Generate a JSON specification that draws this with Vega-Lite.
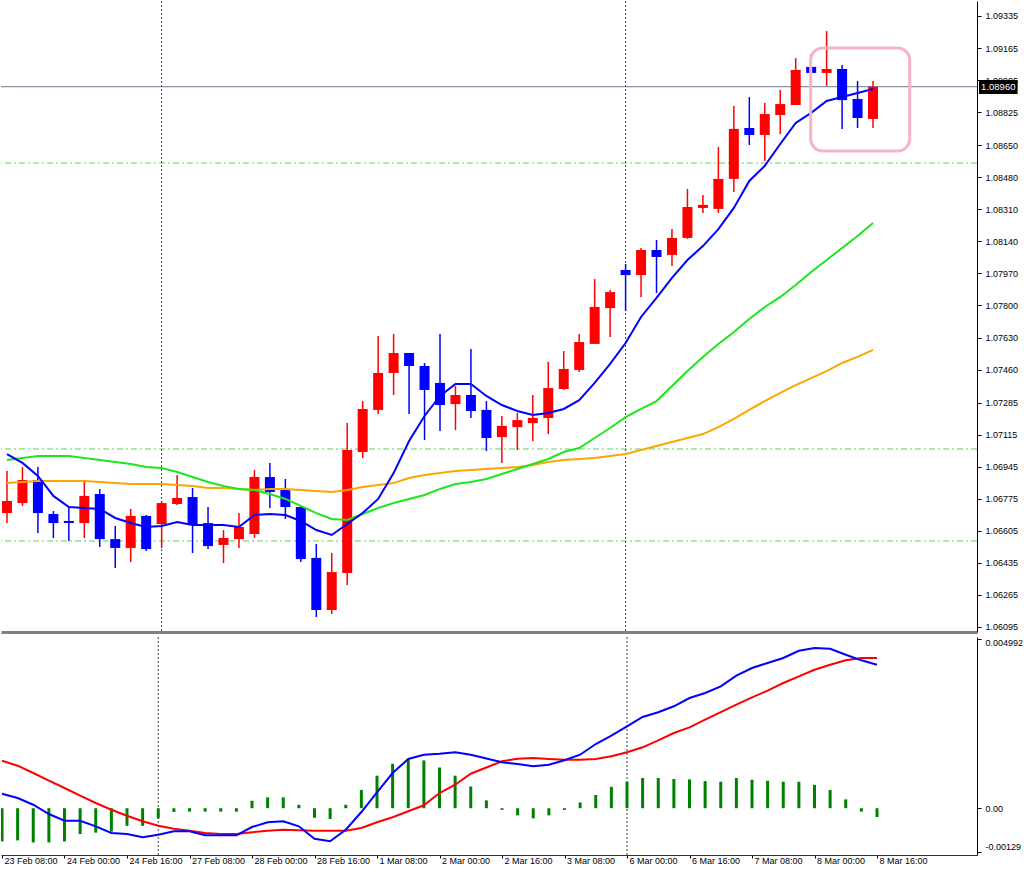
{
  "$schema": "https://vega.github.io/schema/vega-lite/v6.json",
  "background": "white",
  "padding": 0,
  "spacing": 3,
  "config": {
    "view": {"stroke": null},
    "font": "Liberation Sans",
    "axis": {"labelFont": "Liberation Sans", "labelFontSize": 9, "labelColor": "#000000", "domainColor": "#000000", "tickColor": "#000000", "grid": false, "tickSize": 4, "labelOverlap": false},
    "axisY": {"labelOverlap": false, "labelSeparation": 0}
  },
  "datasets": {
    "k": [
      {"i":0,"o":1.06699,"h":1.06922,"l":1.06646,"c":1.06763,"m1":1.07012,"m2":1.06980,"m3":1.06858,"macd":0.000428,"sig":0.001401,"hist":-0.00098},
      {"i":1,"o":1.06752,"h":1.06943,"l":1.06737,"c":1.06874,"m1":1.06965,"m2":1.06991,"m3":1.06864,"macd":0.000301,"sig":0.001254,"hist":-0.00095},
      {"i":2,"o":1.06874,"h":1.06943,"l":1.06593,"c":1.06699,"m1":1.06896,"m2":1.07002,"m3":1.06869,"macd":0.000103,"sig":0.001038,"hist":-0.00101},
      {"i":3,"o":1.06694,"h":1.06710,"l":1.06567,"c":1.06646,"m1":1.06790,"m2":1.07002,"m3":1.06869,"macd":-0.000171,"sig":0.000811,"hist":-0.00101},
      {"i":4,"o":1.06657,"h":1.06726,"l":1.06551,"c":1.06646,"m1":1.06731,"m2":1.07002,"m3":1.06869,"macd":-0.000369,"sig":0.000596,"hist":-0.00098},
      {"i":5,"o":1.06646,"h":1.06864,"l":1.06567,"c":1.06790,"m1":1.06726,"m2":1.06991,"m3":1.06869,"macd":-0.000369,"sig":0.000369,"hist":-0.00076},
      {"i":6,"o":1.06800,"h":1.06827,"l":1.06519,"c":1.06561,"m1":1.06721,"m2":1.06980,"m3":1.06864,"macd":-0.000534,"sig":0.000153,"hist":-0.00072},
      {"i":7,"o":1.06561,"h":1.06631,"l":1.06408,"c":1.06514,"m1":1.06673,"m2":1.06970,"m3":1.06858,"macd":-0.000731,"sig":-0.000044,"hist":-0.00069},
      {"i":8,"o":1.06514,"h":1.06721,"l":1.06439,"c":1.06684,"m1":1.06646,"m2":1.06959,"m3":1.06853,"macd":-0.000761,"sig":-0.000221,"hist":-0.00052},
      {"i":9,"o":1.06684,"h":1.06689,"l":1.06498,"c":1.06508,"m1":1.06625,"m2":1.06943,"m3":1.06853,"macd":-0.000858,"sig":-0.000386,"hist":-0.00052},
      {"i":10,"o":1.06641,"h":1.06763,"l":1.06514,"c":1.06752,"m1":1.06631,"m2":1.06938,"m3":1.06853,"macd":-0.000782,"sig":-0.000516,"hist":-0.00030},
      {"i":11,"o":1.06747,"h":1.06901,"l":1.06742,"c":1.06779,"m1":1.06652,"m2":1.06917,"m3":1.06848,"macd":-0.000681,"sig":-0.000605,"hist":-0.00011},
      {"i":12,"o":1.06784,"h":1.06832,"l":1.06487,"c":1.06641,"m1":1.06636,"m2":1.06890,"m3":1.06843,"macd":-0.000681,"sig":-0.000664,"hist":-0.00010},
      {"i":13,"o":1.06646,"h":1.06731,"l":1.06508,"c":1.06524,"m1":1.06636,"m2":1.06864,"m3":1.06832,"macd":-0.000799,"sig":-0.000731,"hist":-0.00010},
      {"i":14,"o":1.06530,"h":1.06609,"l":1.06434,"c":1.06567,"m1":1.06636,"m2":1.06843,"m3":1.06832,"macd":-0.000799,"sig":-0.000761,"hist":-0.00010},
      {"i":15,"o":1.06561,"h":1.06699,"l":1.06514,"c":1.06625,"m1":1.06625,"m2":1.06827,"m3":1.06827,"macd":-0.000799,"sig":-0.000761,"hist":-0.00010},
      {"i":16,"o":1.06588,"h":1.06927,"l":1.06567,"c":1.06890,"m1":1.06689,"m2":1.06821,"m3":1.06821,"macd":-0.000555,"sig":-0.000711,"hist":0.00022},
      {"i":17,"o":1.06890,"h":1.06965,"l":1.06726,"c":1.06811,"m1":1.06694,"m2":1.06800,"m3":1.06827,"macd":-0.000416,"sig":-0.000664,"hist":0.00032},
      {"i":18,"o":1.06821,"h":1.06880,"l":1.06668,"c":1.06731,"m1":1.06689,"m2":1.06774,"m3":1.06827,"macd":-0.000386,"sig":-0.000634,"hist":0.00032},
      {"i":19,"o":1.06731,"h":1.06737,"l":1.06439,"c":1.06455,"m1":1.06657,"m2":1.06737,"m3":1.06821,"macd":-0.000534,"sig":-0.000652,"hist":0.00010},
      {"i":20,"o":1.06461,"h":1.06535,"l":1.06148,"c":1.06185,"m1":1.06609,"m2":1.06699,"m3":1.06816,"macd":-0.000900,"sig":-0.000664,"hist":-0.00028},
      {"i":21,"o":1.06185,"h":1.06487,"l":1.06164,"c":1.06386,"m1":1.06583,"m2":1.06668,"m3":1.06811,"macd":-0.000976,"sig":-0.000664,"hist":-0.00032},
      {"i":22,"o":1.06381,"h":1.07176,"l":1.06318,"c":1.07033,"m1":1.06641,"m2":1.06662,"m3":1.06821,"macd":-0.000634,"sig":-0.000664,"hist":0.00010},
      {"i":23,"o":1.07023,"h":1.07293,"l":1.06991,"c":1.07251,"m1":1.06699,"m2":1.06694,"m3":1.06837,"macd":-0.000112,"sig":-0.000584,"hist":0.00054},
      {"i":24,"o":1.07246,"h":1.07638,"l":1.07224,"c":1.07442,"m1":1.06774,"m2":1.06726,"m3":1.06848,"macd":0.000469,"sig":-0.000416,"hist":0.00096},
      {"i":25,"o":1.07442,"h":1.07649,"l":1.07325,"c":1.07548,"m1":1.06911,"m2":1.06752,"m3":1.06858,"macd":0.001038,"sig":-0.000268,"hist":0.00131},
      {"i":26,"o":1.07548,"h":1.07548,"l":1.07224,"c":1.07479,"m1":1.07081,"m2":1.06774,"m3":1.06885,"macd":0.001451,"sig":-0.000091,"hist":0.00145},
      {"i":27,"o":1.07479,"h":1.07495,"l":1.07086,"c":1.07352,"m1":1.07214,"m2":1.06795,"m3":1.06901,"macd":0.001578,"sig":0.000086,"hist":0.00141},
      {"i":28,"o":1.07389,"h":1.07649,"l":1.07134,"c":1.07272,"m1":1.07320,"m2":1.06827,"m3":1.06911,"macd":0.001607,"sig":0.000448,"hist":0.00120},
      {"i":29,"o":1.07277,"h":1.07373,"l":1.07139,"c":1.07325,"m1":1.07384,"m2":1.06853,"m3":1.06922,"macd":0.001649,"sig":0.000693,"hist":0.00096},
      {"i":30,"o":1.07325,"h":1.07569,"l":1.07203,"c":1.07240,"m1":1.07384,"m2":1.06864,"m3":1.06927,"macd":0.001578,"sig":0.001018,"hist":0.00064},
      {"i":31,"o":1.07246,"h":1.07293,"l":1.07028,"c":1.07097,"m1":1.07320,"m2":1.06880,"m3":1.06933,"macd":0.001466,"sig":0.001200,"hist":0.00023},
      {"i":32,"o":1.07102,"h":1.07214,"l":1.06965,"c":1.07161,"m1":1.07272,"m2":1.06906,"m3":1.06938,"macd":0.001354,"sig":0.001383,"hist":-0.00005},
      {"i":33,"o":1.07155,"h":1.07230,"l":1.07033,"c":1.07192,"m1":1.07240,"m2":1.06933,"m3":1.06943,"macd":0.001304,"sig":0.001460,"hist":-0.00021},
      {"i":34,"o":1.07176,"h":1.07325,"l":1.07081,"c":1.07203,"m1":1.07219,"m2":1.06959,"m3":1.06954,"macd":0.001236,"sig":0.001481,"hist":-0.00030},
      {"i":35,"o":1.07203,"h":1.07500,"l":1.07118,"c":1.07362,"m1":1.07230,"m2":1.06986,"m3":1.06970,"macd":0.001283,"sig":0.001451,"hist":-0.00021},
      {"i":36,"o":1.07357,"h":1.07558,"l":1.07352,"c":1.07463,"m1":1.07251,"m2":1.07023,"m3":1.06980,"macd":0.001413,"sig":0.001431,"hist":-0.00005},
      {"i":37,"o":1.07458,"h":1.07649,"l":1.07447,"c":1.07606,"m1":1.07298,"m2":1.07044,"m3":1.06986,"macd":0.001578,"sig":0.001431,"hist":0.00017},
      {"i":38,"o":1.07596,"h":1.07940,"l":1.07596,"c":1.07792,"m1":1.07389,"m2":1.07097,"m3":1.06991,"macd":0.001894,"sig":0.001451,"hist":0.00039},
      {"i":39,"o":1.07786,"h":1.07882,"l":1.07633,"c":1.07871,"m1":1.07490,"m2":1.07150,"m3":1.07002,"macd":0.002138,"sig":0.001531,"hist":0.00063},
      {"i":40,"o":1.07988,"h":1.08020,"l":1.07771,"c":1.07961,"m1":1.07601,"m2":1.07208,"m3":1.07012,"macd":0.002416,"sig":0.001649,"hist":0.00078},
      {"i":41,"o":1.07961,"h":1.08105,"l":1.07845,"c":1.08094,"m1":1.07739,"m2":1.07251,"m3":1.07033,"macd":0.002690,"sig":0.001796,"hist":0.00089},
      {"i":42,"o":1.08094,"h":1.08147,"l":1.07866,"c":1.08057,"m1":1.07840,"m2":1.07293,"m3":1.07055,"macd":0.002829,"sig":0.002003,"hist":0.00089},
      {"i":43,"o":1.08068,"h":1.08205,"l":1.08009,"c":1.08158,"m1":1.07946,"m2":1.07373,"m3":1.07076,"macd":0.003006,"sig":0.002218,"hist":0.00086},
      {"i":44,"o":1.08158,"h":1.08418,"l":1.08153,"c":1.08322,"m1":1.08041,"m2":1.07452,"m3":1.07097,"macd":0.003250,"sig":0.002386,"hist":0.00085},
      {"i":45,"o":1.08317,"h":1.08386,"l":1.08290,"c":1.08333,"m1":1.08115,"m2":1.07527,"m3":1.07118,"macd":0.003398,"sig":0.002610,"hist":0.00080},
      {"i":46,"o":1.08312,"h":1.08640,"l":1.08290,"c":1.08471,"m1":1.08205,"m2":1.07596,"m3":1.07155,"macd":0.003595,"sig":0.002837,"hist":0.00078},
      {"i":47,"o":1.08471,"h":1.08858,"l":1.08402,"c":1.08736,"m1":1.08317,"m2":1.07659,"m3":1.07198,"macd":0.003908,"sig":0.003053,"hist":0.00089},
      {"i":48,"o":1.08741,"h":1.08905,"l":1.08651,"c":1.08704,"m1":1.08460,"m2":1.07728,"m3":1.07246,"macd":0.004135,"sig":0.003271,"hist":0.00084},
      {"i":49,"o":1.08704,"h":1.08874,"l":1.08566,"c":1.08815,"m1":1.08540,"m2":1.07792,"m3":1.07293,"macd":0.004283,"sig":0.003466,"hist":0.00081},
      {"i":50,"o":1.08810,"h":1.08943,"l":1.08709,"c":1.08868,"m1":1.08656,"m2":1.07845,"m3":1.07336,"macd":0.004430,"sig":0.003693,"hist":0.00078},
      {"i":51,"o":1.08863,"h":1.09112,"l":1.08863,"c":1.09049,"m1":1.08768,"m2":1.07908,"m3":1.07378,"macd":0.004645,"sig":0.003890,"hist":0.00078},
      {"i":52,"o":1.09065,"h":1.09133,"l":1.09033,"c":1.09033,"m1":1.08821,"m2":1.07977,"m3":1.07415,"macd":0.004725,"sig":0.004085,"hist":0.00069},
      {"i":53,"o":1.09033,"h":1.09255,"l":1.08964,"c":1.09054,"m1":1.08884,"m2":1.08041,"m3":1.07452,"macd":0.004704,"sig":0.004232,"hist":0.00054},
      {"i":54,"o":1.09054,"h":1.09075,"l":1.08736,"c":1.08889,"m1":1.08905,"m2":1.08105,"m3":1.07495,"macd":0.004527,"sig":0.004362,"hist":0.00026},
      {"i":55,"o":1.08895,"h":1.08990,"l":1.08741,"c":1.08794,"m1":1.08927,"m2":1.08168,"m3":1.07527,"macd":0.004362,"sig":0.004430,"hist":-0.00010},
      {"i":56,"o":1.08789,"h":1.08990,"l":1.08741,"c":1.08960,"m1":1.08948,"m2":1.08237,"m3":1.07564,"macd":0.004232,"sig":0.004430,"hist":-0.00026}
    ],
    "lv": [{"p": 1.085554}, {"p": 1.070388}, {"p": 1.065509}],
    "sep": [{"i": 10}, {"i": 40}],
    "cur": [{"p": 1.0896}],
    "box": [{"x1": 51.97, "x2": 58.37, "y1": 1.091653, "y2": 1.08619}],
    "tag": [{"x1": 62.85, "x2": 65.35, "y1": 1.089956, "y2": 1.089213, "xt": 64.1, "p": 1.0896, "txt": "1.08960"}]
  },
  "vconcat": [
    {
      "width": 976,
      "height": 631,
      "encoding": {
        "y": {"type": "quantitative", "title": null,
          "scale": {"domain": [1.060683, 1.094145], "nice": false, "zero": false},
          "axis": {"orient": "right", "values": [1.06095,1.06265,1.06435,1.06605,1.06775,1.06945,1.07115,1.07285,1.07460,1.07630,1.07800,1.07970,1.08140,1.08310,1.08480,1.08650,1.08825,1.08995,1.09165,1.09335], "format": ".5f", "labelPadding": 4, "labelFlush": false, "labelOverlap": false, "labelSeparation": 0, "title": null}}
      },
      "layer": [
        {
          "data": {"name": "lv"},
          "mark": {"type": "rule", "color": "#5fd35f", "strokeWidth": 1, "strokeDash": [6, 3, 2, 3]},
          "encoding": {"y": {"field": "p", "type": "quantitative"}}
        },
        {
          "data": {"name": "sep"},
          "mark": {"type": "rule", "color": "#404040", "strokeWidth": 1, "strokeDash": [2, 2]},
          "encoding": {
            "x": {"field": "i", "type": "quantitative", "title": null,
              "scale": {"domain": [-0.064, 62.4], "nice": false, "zero": false},
              "axis": {"labels": false, "ticks": false, "domainColor": "#808080", "domainWidth": 3, "title": null}}
          }
        },
        {
          "data": {"name": "cur"},
          "mark": {"type": "rule", "color": "#6a7a8c", "strokeWidth": 1},
          "encoding": {"y": {"field": "p", "type": "quantitative"}}
        },
        {
          "data": {"name": "k"},
          "mark": {"type": "rule", "strokeWidth": 1.5, "clip": true},
          "encoding": {
            "x": {"field": "i", "type": "quantitative", "title": null},
            "y": {"field": "l", "type": "quantitative"},
            "y2": {"field": "h"},
            "color": {"condition": {"test": "datum.c >= datum.o", "value": "#ff0000"}, "value": "#0000ff"}
          }
        },
        {
          "data": {"name": "k"},
          "mark": {"type": "bar", "size": 10, "clip": true},
          "encoding": {
            "x": {"field": "i", "type": "quantitative", "title": null},
            "y": {"field": "o", "type": "quantitative"},
            "y2": {"field": "c"},
            "color": {"condition": {"test": "datum.c >= datum.o", "value": "#ff0000"}, "value": "#0000ff"}
          }
        },
        {
          "data": {"name": "k"},
          "mark": {"type": "line", "color": "#ffa500", "strokeWidth": 2, "clip": true},
          "encoding": {
            "x": {"field": "i", "type": "quantitative", "title": null},
            "y": {"field": "m3", "type": "quantitative"}
          }
        },
        {
          "data": {"name": "k"},
          "mark": {"type": "line", "color": "#1ee61e", "strokeWidth": 2, "clip": true},
          "encoding": {
            "x": {"field": "i", "type": "quantitative", "title": null},
            "y": {"field": "m2", "type": "quantitative"}
          }
        },
        {
          "data": {"name": "k"},
          "mark": {"type": "line", "color": "#0000ff", "strokeWidth": 2, "clip": true},
          "encoding": {
            "x": {"field": "i", "type": "quantitative", "title": null},
            "y": {"field": "m1", "type": "quantitative"}
          }
        },
        {
          "data": {"name": "box"},
          "mark": {"type": "rect", "fill": "transparent", "stroke": "#f8b3cc", "strokeWidth": 3, "cornerRadius": 12},
          "encoding": {
            "x": {"field": "x1", "type": "quantitative", "title": null},
            "x2": {"field": "x2"},
            "y": {"field": "y1", "type": "quantitative"},
            "y2": {"field": "y2"}
          }
        },
        {
          "data": {"name": "tag"},
          "mark": {"type": "rect", "fill": "#000000"},
          "encoding": {
            "x": {"field": "x1", "type": "quantitative", "title": null},
            "x2": {"field": "x2"},
            "y": {"field": "y1", "type": "quantitative"},
            "y2": {"field": "y2"}
          }
        },
        {
          "data": {"name": "tag"},
          "mark": {"type": "text", "color": "#ffffff", "fontSize": 9.5, "font": "Liberation Sans", "align": "center", "baseline": "middle"},
          "encoding": {
            "x": {"field": "xt", "type": "quantitative", "title": null},
            "y": {"field": "p", "type": "quantitative"},
            "text": {"field": "txt"}
          }
        }
      ]
    },
    {
      "width": 976,
      "height": 218,
      "layer": [
        {
          "data": {"name": "sep"},
          "mark": {"type": "rule", "color": "#404040", "strokeWidth": 1, "strokeDash": [2, 2]},
          "encoding": {
            "x": {"field": "i", "type": "quantitative", "title": null,
              "scale": {"domain": [-0.064, 62.4], "nice": false, "zero": false},
              "axis": {"values": [0,4,8,12,16,20,24,28,32,36,40,44,48,52,56], "labelAlign": "left", "labelOffset": 2, "tickSize": 3, "labelPadding": -2, "labelOverlap": false, "labelBound": false, "labelFlush": false, "domainColor": "#333333", "title": null,
                "labelExpr": "['23 Feb 08:00','24 Feb 00:00','24 Feb 16:00','27 Feb 08:00','28 Feb 00:00','28 Feb 16:00','1 Mar 08:00','2 Mar 00:00','2 Mar 16:00','3 Mar 08:00','6 Mar 00:00','6 Mar 16:00','7 Mar 08:00','8 Mar 00:00','8 Mar 16:00'][round(datum.value/4)]"}}
          }
        },
        {
          "data": {"name": "k"},
          "mark": {"type": "rule", "color": "#008000", "strokeWidth": 3, "clip": true},
          "encoding": {
            "x": {"field": "i", "type": "quantitative", "title": null},
            "y": {"field": "hist", "type": "quantitative", "title": null,
              "scale": {"domain": [-0.00138, 0.00505], "nice": false, "zero": false},
              "axis": {"orient": "right", "values": [-0.00129, 0, 0.004992], "labelFlush": 4, "labelPadding": 4, "labelOverlap": false, "title": null,
                "labelExpr": "datum.value == 0 ? '0.00' : (datum.value > 0 ? '0.004992' : '-0.00129')"}},
            "y2": {"datum": 0}
          }
        },
        {
          "data": {"name": "k"},
          "mark": {"type": "line", "color": "#ff0000", "strokeWidth": 2, "clip": true},
          "encoding": {
            "x": {"field": "i", "type": "quantitative", "title": null},
            "y": {"field": "sig", "type": "quantitative", "title": null}
          }
        },
        {
          "data": {"name": "k"},
          "mark": {"type": "line", "color": "#0000ff", "strokeWidth": 2, "clip": true},
          "encoding": {
            "x": {"field": "i", "type": "quantitative", "title": null},
            "y": {"field": "macd", "type": "quantitative", "title": null}
          }
        }
      ]
    }
  ]
}
